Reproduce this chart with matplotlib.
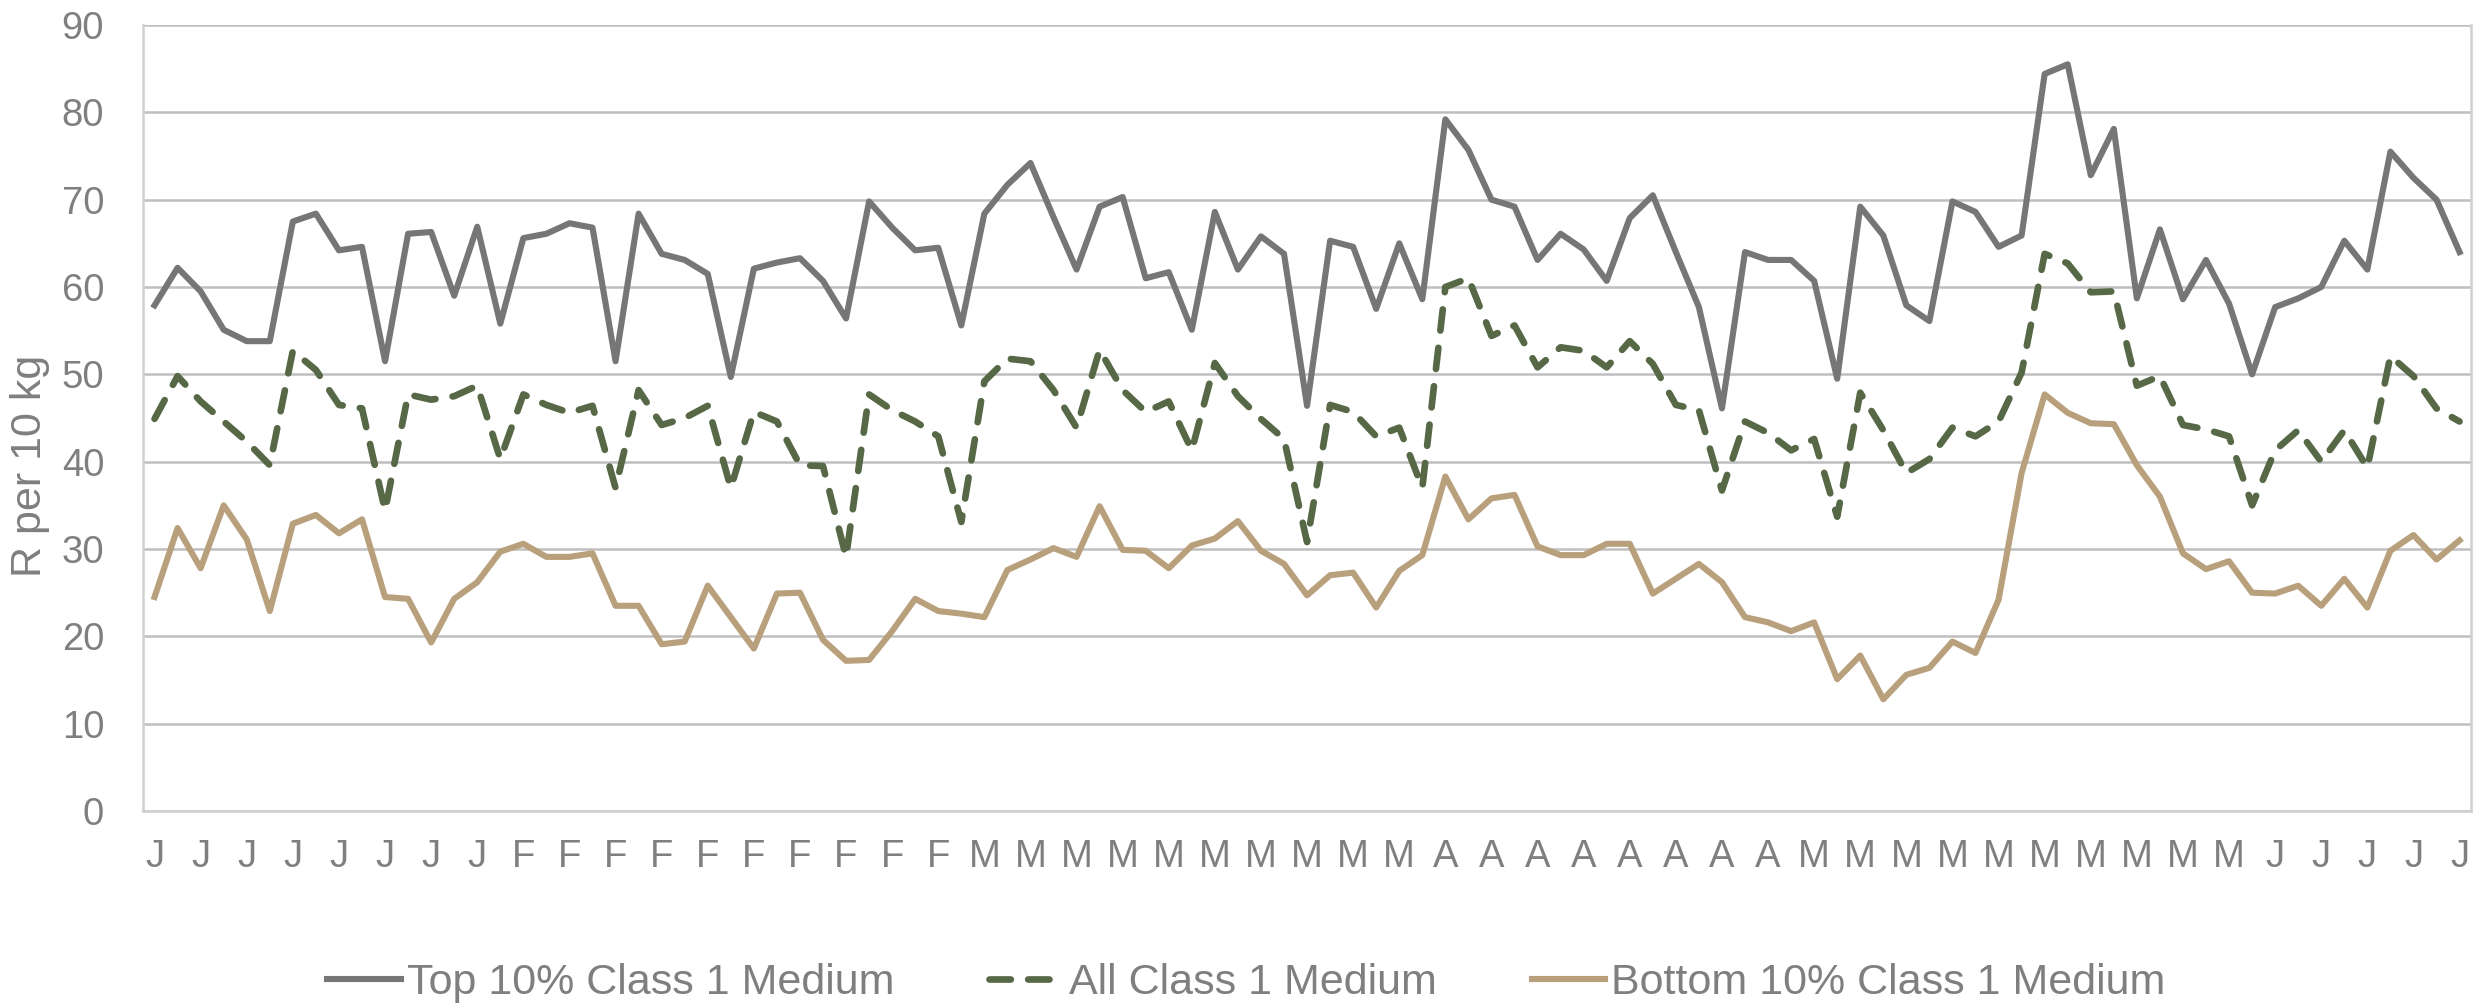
import matplotlib
matplotlib.use("Agg")
import matplotlib.pyplot as plt
import numpy as np

plt.rcParams['font.family'] = ['Liberation Sans', 'DejaVu Sans']

# month initial for each of the 101 points (every second one is labelled)
months = ['J'] * 16 + ['F'] * 20 + ['M'] * 20 + ['A'] * 16 + ['M'] * 20 + ['J'] * 9

top10 = [57.9, 62.2, 59.5, 55.1, 53.8, 53.8, 67.5, 68.4, 64.2, 64.6,
         51.5, 66.1, 66.3, 59.0, 66.9, 55.8, 65.6, 66.1, 67.3, 66.8,
         51.5, 68.4, 63.8, 63.1, 61.5, 49.7, 62.1, 62.8, 63.3, 60.7,
         56.4, 69.8, 66.8, 64.2, 64.5, 55.6, 68.4, 71.7, 74.2, 68.0,
         62.0, 69.2, 70.3, 61.0, 61.7, 55.1, 68.6, 62.0, 65.8, 63.8,
         46.4, 65.3, 64.6, 57.5, 65.0, 58.6, 79.2, 75.7, 70.0, 69.2,
         63.1, 66.1, 64.3, 60.7, 67.9, 70.5, 64.0, 57.7, 46.1, 64.0,
         63.1, 63.1, 60.7, 49.5, 69.2, 65.9, 57.9, 56.1, 69.8, 68.6,
         64.6, 65.9, 84.4, 85.5, 72.8, 78.1, 58.7, 66.6, 58.6, 63.1,
         58.1, 50.0, 57.7, 58.7, 60.0, 65.3, 62.0, 75.5, 72.5, 70.0,
         64.0]

all_c1 = [44.9, 49.8, 46.9, 44.6, 42.3, 39.6, 52.7, 50.5, 46.5, 46.1,
          34.4, 47.7, 47.1, 47.5, 48.7, 40.3, 47.7, 46.5, 45.6, 46.4,
          37.0, 48.2, 44.2, 45.0, 46.4, 37.0, 45.7, 44.6, 39.6, 39.5,
          29.1, 47.7, 45.9, 44.6, 42.9, 33.1, 49.2, 51.8, 51.5, 48.2,
          43.9, 52.8, 48.2, 45.7, 46.9, 41.3, 51.3, 47.5, 44.9, 42.6,
          30.8, 46.5, 45.7, 42.9, 43.9, 37.0, 60.0, 61.0, 54.4, 55.6,
          50.8, 53.1, 52.7, 50.8, 53.8, 51.2, 46.5, 45.9, 36.7, 44.6,
          43.3, 41.3, 42.6, 33.7, 47.9, 43.6, 38.7, 40.3, 43.9, 42.9,
          44.6, 50.2, 63.8, 62.7, 59.4, 59.5, 48.7, 49.8, 44.2, 43.7,
          42.9, 35.0, 41.3, 43.6, 40.0, 43.6, 39.3, 52.1, 49.8, 46.1,
          44.6]

bottom10 = [24.5, 32.4, 27.8, 35.0, 31.1, 22.9, 32.9, 33.9, 31.8, 33.4,
            24.5, 24.3, 19.3, 24.3, 26.2, 29.7, 30.6, 29.1, 29.1, 29.5,
            23.5, 23.5, 19.1, 19.4, 25.8, 22.2, 18.6, 24.9, 25.0, 19.6,
            17.2, 17.3, 20.6, 24.3, 22.9, 22.6, 22.2, 27.6, 28.8, 30.1,
            29.1, 34.9, 29.9, 29.8, 27.8, 30.4, 31.2, 33.2, 29.8, 28.3,
            24.7, 27.0, 27.3, 23.3, 27.5, 29.3, 38.3, 33.4, 35.8, 36.2,
            30.3, 29.3, 29.3, 30.6, 30.6, 24.9, 26.6, 28.3, 26.2, 22.2,
            21.6, 20.6, 21.6, 15.1, 17.8, 12.8, 15.6, 16.4, 19.4, 18.1,
            24.2, 38.7, 47.7, 45.6, 44.4, 44.3, 39.6, 36.0, 29.5, 27.7,
            28.6, 25.0, 24.9, 25.8, 23.5, 26.6, 23.3, 29.8, 31.6, 28.8,
            31.0]

series_names = ['Top 10% Class 1 Medium', 'All Class 1 Medium', 'Bottom 10% Class 1 Medium']

text_col = '#7f7f7f'
grid_col = '#bfbfbf'

x = np.arange(len(months))

fig = plt.figure(figsize=(24.83, 10.08), dpi=100)
ax = fig.add_axes([0.0576, 0.1954, 0.9376, 0.7798])

ax.plot(x, top10, color='#767676', lw=4.4, label=series_names[0], zorder=3)
ax.plot(x, all_c1, color='#566846', lw=4.8, dashes=(3.2, 2.6), dash_capstyle='round',
        label=series_names[1], zorder=3)
ax.plot(x, bottom10, color='#b9a07d', lw=4.4, label=series_names[2], zorder=3)

ax.set_xlim(-0.5, len(months) - 0.5)
ax.set_ylim(0, 90)
ax.set_yticks(np.arange(0, 91, 10))
ax.set_xticks(x[::2])
ax.set_xticklabels(months[::2])

ax.grid(axis='y', color=grid_col, lw=1.8, zorder=0)
ax.tick_params(axis='both', length=0, labelsize=27.5, labelcolor=text_col)
ax.tick_params(axis='y', pad=28)
ax.tick_params(axis='x', pad=20)

for side in ['left', 'right', 'bottom']:
    ax.spines[side].set_color('#d0d0d0')
    ax.spines[side].set_linewidth(1.8)
ax.spines['top'].set_visible(False)

ax.set_ylabel('R per 10 kg', fontsize=31, color=text_col)
ax.yaxis.set_label_coords(-0.040, 0.439)

leg = fig.legend(loc='center', bbox_to_anchor=(0.502, 0.025), ncol=3, frameon=False,
                 fontsize=31, handlelength=1.7, handletextpad=0.15, columnspacing=2.2)
for t in leg.get_texts():
    t.set_color(text_col)

fig.savefig('out.png', dpi=100, facecolor='white')
